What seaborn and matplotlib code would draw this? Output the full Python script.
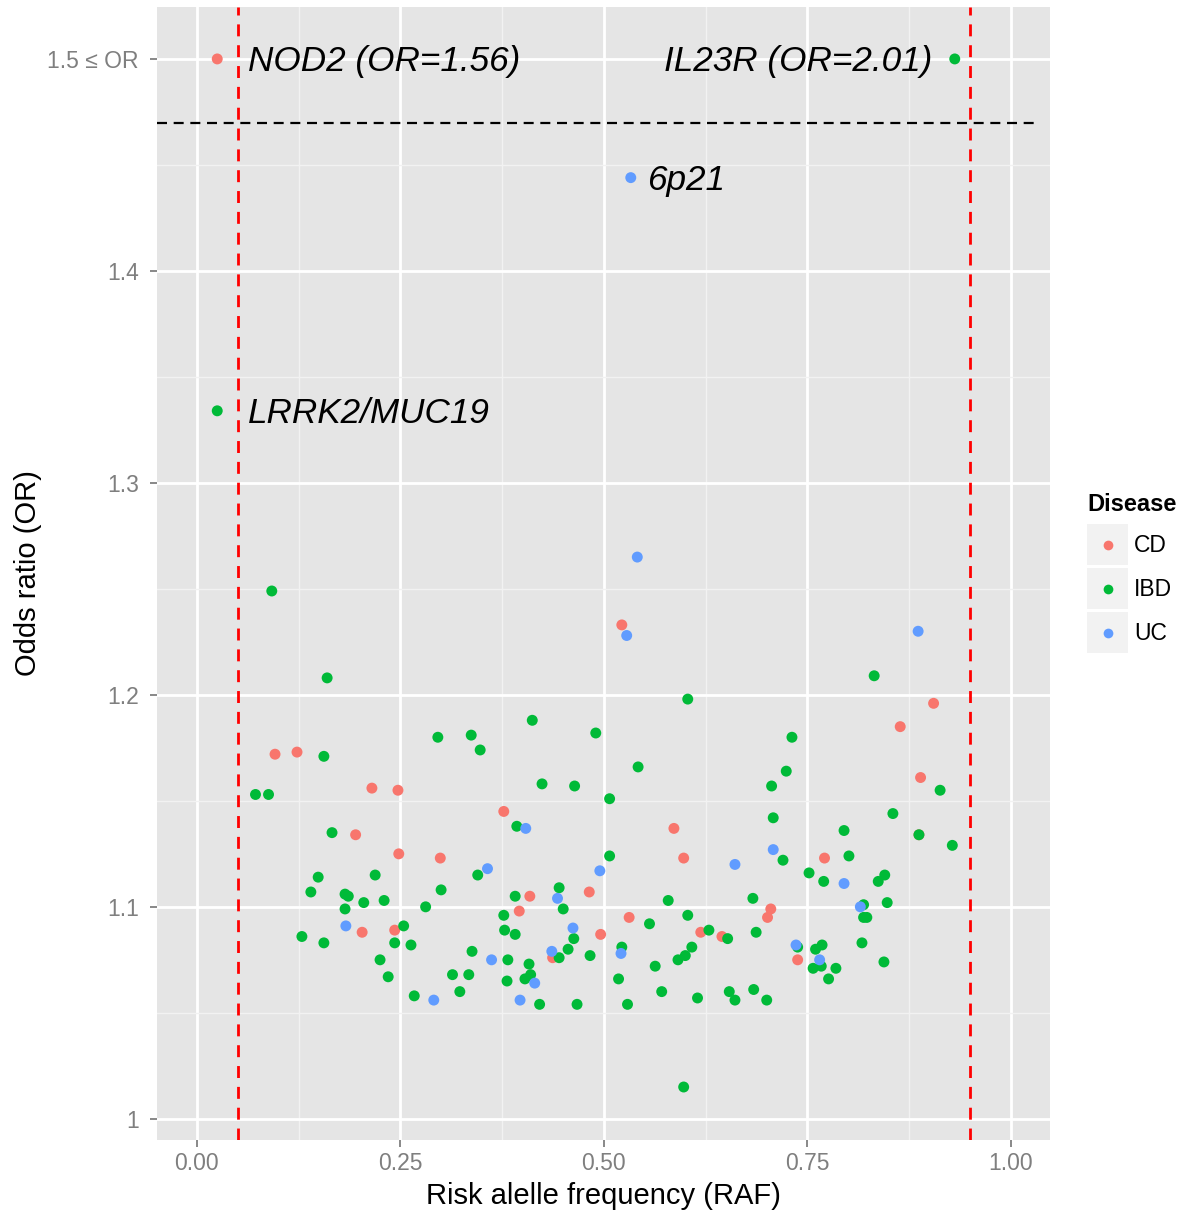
import numpy as np
import pandas as pd
import matplotlib
matplotlib.use("Agg")
import matplotlib.pyplot as plt
import matplotlib.transforms as mtransforms
import seaborn as sns
from matplotlib.patches import Rectangle
from matplotlib.lines import Line2D

# ---------------- data ----------------
cd_raf = [0.025, 0.096, 0.123, 0.215, 0.247, 0.195, 0.248, 0.299, 0.203, 0.243,
          0.377, 0.409, 0.396, 0.482, 0.496, 0.437, 0.531, 0.522, 0.586, 0.598,
          0.771, 0.705, 0.701, 0.619, 0.645, 0.738, 0.905, 0.864, 0.889, 0.887]
cd_or = [1.500, 1.172, 1.173, 1.156, 1.155, 1.134, 1.125, 1.123, 1.088, 1.089,
         1.145, 1.105, 1.098, 1.107, 1.087, 1.076, 1.095, 1.233, 1.137, 1.123,
         1.123, 1.099, 1.095, 1.088, 1.086, 1.075, 1.196, 1.185, 1.161, 1.134]

uc_raf = [0.533, 0.541, 0.528, 0.886, 0.183, 0.291, 0.404, 0.357, 0.443, 0.495,
          0.462, 0.521, 0.436, 0.362, 0.415, 0.397, 0.708, 0.661, 0.736, 0.765,
          0.795, 0.815]
uc_or = [1.444, 1.265, 1.228, 1.230, 1.091, 1.056, 1.137, 1.118, 1.104, 1.117,
         1.090, 1.078, 1.079, 1.075, 1.064, 1.056, 1.127, 1.120, 1.082, 1.075,
         1.111, 1.100]

ibd_raf = [0.931, 0.025, 0.092, 0.160, 0.156, 0.072, 0.088, 0.166, 0.149, 0.219,
           0.140, 0.182, 0.186, 0.205, 0.230, 0.182, 0.300, 0.281, 0.129, 0.156,
           0.243, 0.263, 0.254, 0.225, 0.235, 0.267, 0.393, 0.345, 0.391, 0.445,
           0.450, 0.377, 0.507, 0.507, 0.378, 0.391, 0.463, 0.456, 0.522, 0.445,
           0.483, 0.338, 0.382, 0.408, 0.314, 0.334, 0.410, 0.403, 0.381, 0.323,
           0.421, 0.467, 0.529, 0.518, 0.412, 0.296, 0.337, 0.348, 0.490, 0.424,
           0.464, 0.603, 0.542, 0.731, 0.724, 0.706, 0.708, 0.720, 0.752, 0.770,
           0.579, 0.683, 0.556, 0.603, 0.629, 0.652, 0.687, 0.608, 0.600, 0.591,
           0.563, 0.738, 0.760, 0.768, 0.757, 0.767, 0.785, 0.776, 0.571, 0.615,
           0.654, 0.661, 0.684, 0.700, 0.598, 0.832, 0.913, 0.855, 0.795, 0.887,
           0.928, 0.801, 0.845, 0.837, 0.819, 0.848, 0.819, 0.823, 0.817, 0.844]
ibd_or = [1.500, 1.334, 1.249, 1.208, 1.171, 1.153, 1.153, 1.135, 1.114, 1.115,
          1.107, 1.106, 1.105, 1.102, 1.103, 1.099, 1.108, 1.100, 1.086, 1.083,
          1.083, 1.082, 1.091, 1.075, 1.067, 1.058, 1.138, 1.115, 1.105, 1.109,
          1.099, 1.096, 1.124, 1.151, 1.089, 1.087, 1.085, 1.080, 1.081, 1.076,
          1.077, 1.079, 1.075, 1.073, 1.068, 1.068, 1.068, 1.066, 1.065, 1.060,
          1.054, 1.054, 1.054, 1.066, 1.188, 1.180, 1.181, 1.174, 1.182, 1.158,
          1.157, 1.198, 1.166, 1.180, 1.164, 1.157, 1.142, 1.122, 1.116, 1.112,
          1.103, 1.104, 1.092, 1.096, 1.089, 1.085, 1.088, 1.081, 1.077, 1.075,
          1.072, 1.081, 1.080, 1.082, 1.071, 1.072, 1.071, 1.066, 1.060, 1.057,
          1.060, 1.056, 1.061, 1.056, 1.015, 1.209, 1.155, 1.144, 1.136, 1.134,
          1.129, 1.124, 1.115, 1.112, 1.101, 1.102, 1.095, 1.095, 1.083, 1.074]

diseases = ["CD", "IBD", "UC"]
palette = {"CD": "#F8766D", "IBD": "#00BA38", "UC": "#619CFF"}

x_ticks = [0.0, 0.25, 0.5, 0.75, 1.0]
x_tick_labels = ["0.00", "0.25", "0.50", "0.75", "1.00"]
y_ticks = [1.0, 1.1, 1.2, 1.3, 1.4, 1.5]
y_tick_labels = ["1", "1.1", "1.2", "1.3", "1.4", "1.5 \u2264 OR"]

maf_cut = [0.05, 0.95]
or_cap_line = 1.47

ann_text = ["NOD2 (OR=1.56)", "IL23R (OR=2.01)", "6p21", "LRRK2/MUC19"]
ann_x = [0.063, 0.904, 0.553, 0.063]
ann_y = [1.500, 1.500, 1.444, 1.334]
ann_ha = ["left", "right", "left", "left"]

df = pd.DataFrame({
    "RAF": cd_raf + ibd_raf + uc_raf,
    "OR": cd_or + ibd_or + uc_or,
    "Disease": ["CD"] * len(cd_raf) + ["IBD"] * len(ibd_raf) + ["UC"] * len(uc_raf),
})

# ---------------- figure ----------------
plt.rcParams["font.family"] = ["Liberation Sans", "DejaVu Sans"]
W, H = 1184, 1211
fig = plt.figure(figsize=(W / 100, H / 100), dpi=100)
fig.patch.set_facecolor("white")
ax = fig.add_axes([157 / W, 1 - 1140 / H, (1050 - 157) / W, (1140 - 7) / H])
ax.set_facecolor("#E5E5E5")

sns.scatterplot(data=df, x="RAF", y="OR", hue="Disease", hue_order=diseases,
                palette=palette, s=62, linewidth=0, legend=False, ax=ax, zorder=3)

ax.set_xlim(-0.049, 1.048)
ax.set_ylim(0.990, 1.5245)

ax.set_xticks(x_ticks)
ax.set_xticklabels(x_tick_labels)
ax.set_yticks(y_ticks)
ax.set_yticklabels(y_tick_labels)
ax.set_xticks([0.125, 0.375, 0.625, 0.875], minor=True)
ax.set_yticks([1.05, 1.15, 1.25, 1.35, 1.45], minor=True)
ax.set_axisbelow(True)
ax.grid(which="major", color="white", linewidth=2.0)
ax.grid(which="minor", color="#F2F2F2", linewidth=1.0)
for sp in ax.spines.values():
    sp.set_visible(False)
ax.tick_params(which="major", length=5, width=1.3, color="#7F7F7F",
               labelcolor="#7F7F7F", labelsize=16.5)
ax.tick_params(axis="x", which="major", pad=4)
ax.tick_params(axis="y", which="major", pad=8)
ax.tick_params(which="minor", length=0)

for xv in maf_cut:
    ax.axvline(xv, color="#FF0000", linewidth=2.0, linestyle=(0, (4.3, 3.2)), zorder=2)
ax.hlines(or_cap_line, -0.049, 1.036, color="black", linewidth=1.6,
          linestyle=(0, (4.5, 3.0)), zorder=2)

text_tr = mtransforms.offset_copy(ax.transData, fig=fig, x=0, y=-3, units="dots")
for t, xx, yy, ha in zip(ann_text, ann_x, ann_y, ann_ha):
    ax.text(xx, yy, t, style="italic", fontsize=25.3, ha=ha, va="center",
            color="black", zorder=4, transform=text_tr)

ax.set_xlabel("Risk alelle frequency (RAF)", fontsize=21, labelpad=5, color="black")
ax.set_ylabel("Odds ratio (OR)", fontsize=21, labelpad=4, color="black")

# ---------------- legend ----------------
def fx(px):
    return px / W

def fy(py):
    return 1 - py / H

fig.text(fx(1087), fy(505), "Disease", fontsize=17, fontweight="bold",
         ha="left", va="center", color="black")
for i, d in enumerate(diseases):
    top = 524 + i * 44
    fig.add_artist(Rectangle((fx(1087), fy(top + 41)), 41 / W, 41 / H,
                             transform=fig.transFigure, facecolor="#F2F2F2",
                             edgecolor="none"))
    fig.add_artist(Line2D([fx(1108)], [fy(top + 21)], marker="o", markersize=7,
                          markerfacecolor=palette[d], markeredgewidth=0,
                          linestyle="none", transform=fig.transFigure))
    fig.text(fx(1134), fy(top + 21), d, fontsize=16.5, ha="left", va="center",
             color="black")

fig.savefig("out.png", dpi=100)
